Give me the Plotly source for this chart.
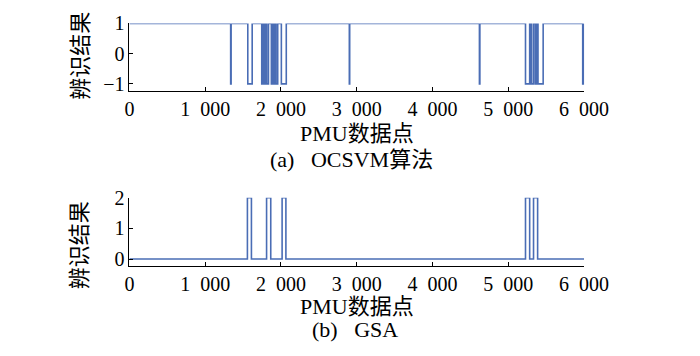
import plotly.graph_objects as go

# ---- data ----
x_total = 6000
# OCSVM: baseline 1, dips to -1 over these intervals (PMU sample index)
ocsvm_start = [1336, 1562, 1746, 1780, 1812, 1873, 1900, 1935, 2005, 2902, 4619, 5227, 5290, 5310, 5360, 5392, 5982]
ocsvm_end   = [1342, 1620, 1765, 1800, 1835, 1890, 1920, 1957, 2070, 2907, 4625, 5282, 5300, 5337, 5372, 5460, 5998]
# GSA: baseline 0, jumps to 2 over these intervals
gsa_start = [1557, 1810, 2015, 5227, 5333]
gsa_end   = [1610, 1865, 2065, 5282, 5387]

x_ticks = [0, 1000, 2000, 3000, 4000, 5000, 6000]
x_ticktext = ["0", "1\u2002000", "2\u2002000", "3\u2002000", "4\u2002000", "5\u2002000", "6\u2002000"]
y1_ticks = [-1, 0, 1]
y1_ticktext = ["\u22121", "0", "1"]
y2_ticks = [0, 1, 2]


def build(starts, ends, base, level):
    xs, ys = [0], [base]
    for s, e in zip(starts, ends):
        xs += [s, s, e, e]
        ys += [base, level, level, base]
    xs.append(x_total)
    ys.append(base)
    return xs, ys


x1, y1 = build(ocsvm_start, ocsvm_end, 1, -1)
x2, y2 = build(gsa_start, gsa_end, 0, 2)

LINE = "#4a6db5"
FONT = "Liberation Serif, Times New Roman, Noto Sans CJK SC, serif"

fig = go.Figure()
fig.add_trace(go.Scatter(x=x1, y=y1, mode="lines", line=dict(color=LINE, width=1.6),
                         xaxis="x", yaxis="y", showlegend=False, hoverinfo="skip"))
fig.add_trace(go.Scatter(x=x2, y=y2, mode="lines", line=dict(color=LINE, width=1.6),
                         xaxis="x2", yaxis="y2", showlegend=False, hoverinfo="skip"))

axcommon = dict(showline=True, linecolor="black", linewidth=1, ticks="inside", ticklen=4,
                tickcolor="black", tickwidth=1, showgrid=False, zeroline=False,
                tickfont=dict(family=FONT, size=20, color="black"))

xd = [130 / 700, 605 / 700]
fig.update_layout(
    width=700, height=356, margin=dict(l=0, r=0, t=0, b=0),
    paper_bgcolor="white", plot_bgcolor="white",
    font=dict(family=FONT, color="black"),
    xaxis=dict(domain=xd, range=[0, 6000], anchor="y", tickvals=x_ticks, ticktext=x_ticktext, **axcommon),
    yaxis=dict(domain=[1 - 84 / 356, 1 - 13 / 356], range=[-1.25, 1.0], anchor="x",
               tickvals=y1_ticks, ticktext=y1_ticktext, **axcommon),
    xaxis2=dict(domain=xd, range=[0, 6000], anchor="y2", tickvals=x_ticks, ticktext=x_ticktext, **axcommon),
    yaxis2=dict(domain=[1 - 266 / 356, 1 - 195 / 356], range=[-0.22, 2.0], anchor="x2",
                tickvals=y2_ticks, **axcommon),
)

def ann(text, x, y, size=22, angle=0):
    fig.add_annotation(text=text, x=x / 700, y=1 - y / 356, xref="paper", yref="paper",
                       showarrow=False, textangle=angle, xanchor="center", yanchor="middle",
                       font=dict(family=FONT, size=size, color="black"))

ann("PMU数据点", 368, 128)
ann("(a)\u2002 OCSVM算法", 362, 155)
ann("辨识结果", 78, 47, angle=-90)
ann("PMU数据点", 368, 308)
ann("(b)\u2002 GSA", 366, 333)
ann("辨识结果", 78, 245, angle=-90)

fig.write_html("out.html", config={"displayModeBar": False},
               post_script="document.body.style.margin='0';document.body.style.overflow='hidden';")
